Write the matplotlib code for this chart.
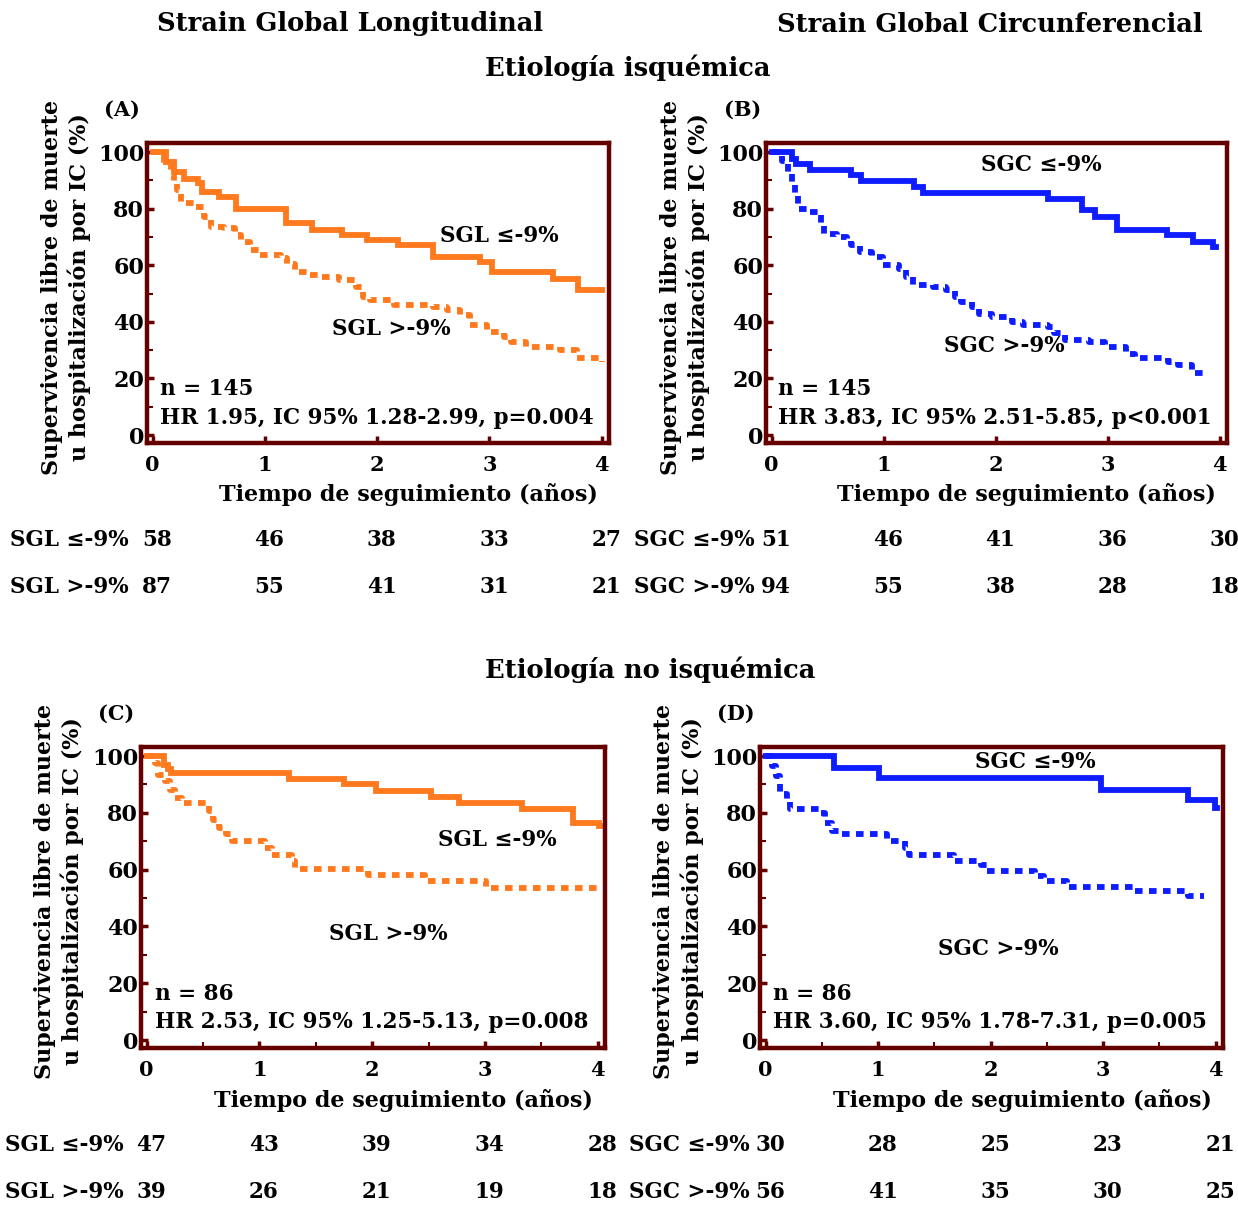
import matplotlib
matplotlib.use('Agg')
import matplotlib.pyplot as plt
from matplotlib.ticker import MultipleLocator, FixedLocator

plt.rcParams['font.family'] = ['DejaVu Serif']
plt.rcParams['font.weight'] = 'bold'

ORANGE = '#ff7a1e'
BLUE = '#0d1dff'
FRAME = '#640000'

# ---- curvas (tiempo en años, supervivencia en %) ----
# (A) SGL, etiologia isquemica
a_low_t = [0, 0.12, 0.19, 0.28, 0.40, 0.44, 0.59, 0.74, 1.19, 1.42, 1.69, 1.91, 2.19, 2.50, 2.92, 3.02, 3.57, 3.79, 4.0]
a_low_s = [100, 96.5, 93, 90.6, 89, 85.9, 84.1, 80, 75, 72.6, 70.6, 68.8, 67.1, 62.9, 61.2, 57.6, 55.3, 51.2, 51.2]
a_high_t = [0, 0.10, 0.16, 0.19, 0.22, 0.25, 0.37, 0.46, 0.52, 0.64, 0.73, 0.79, 0.87, 0.96, 1.14, 1.20, 1.27, 1.38,
            1.47, 1.66, 1.81, 1.87, 1.94, 2.15, 2.50, 2.62, 2.74, 2.83, 2.98, 3.13, 3.19, 3.33, 3.63, 3.78, 4.0]
a_high_s = [100, 96, 92, 89, 86.5, 82, 80.6, 77, 73.5, 73, 70.6, 68.2, 65.3, 63.5, 62.4, 60.6, 57.6, 56.5,
            55.9, 54.7, 52.4, 48.8, 47.6, 45.9, 45.3, 44.1, 42.4, 38.8, 36.5, 34.7, 32.9, 31.2, 30, 27.1, 25.9]

# (B) SGC, etiologia isquemica
b_low_t = [0, 0.18, 0.22, 0.34, 0.71, 0.80, 1.27, 1.35, 2.47, 2.77, 2.89, 3.08, 3.53, 3.76, 3.94, 3.97]
b_low_s = [100, 97.6, 95.9, 93.5, 91.8, 89.8, 87.6, 85.6, 83.5, 79.4, 77, 72.6, 70.6, 68.2, 66.5, 66.5]
b_high_t = [0, 0.09, 0.15, 0.18, 0.21, 0.24, 0.33, 0.41, 0.44, 0.47, 0.58, 0.67, 0.71, 0.79, 0.90, 0.99, 1.14, 1.20,
            1.26, 1.44, 1.56, 1.64, 1.69, 1.79, 1.85, 1.97, 2.15, 2.24, 2.47, 2.52, 2.62, 2.83, 2.98, 3.16, 3.24,
            3.54, 3.63, 3.75, 3.90]
b_high_s = [100, 97, 92.4, 89.4, 85.3, 80, 78.8, 78.2, 74.7, 71.2, 70, 68.8, 67.1, 64.7, 62.9, 60, 58.8, 55.9,
            52.9, 52.4, 51.2, 48.8, 47, 45.3, 42.9, 41.8, 40, 38.8, 38.2, 35.9, 33.5, 32.9, 31.2, 28.8, 27.1,
            25.9, 24.7, 21.8, 21.8]

# (C) SGL, etiologia no isquemica
c_low_t = [0, 0.15, 0.19, 0.22, 1.26, 1.75, 2.03, 2.52, 2.77, 3.33, 3.78, 4.01, 4.04]
c_low_s = [100, 97, 95.3, 94.1, 91.8, 90, 87.6, 85.5, 83.5, 81.2, 76.5, 75.3, 75.3]
c_high_t = [0, 0.07, 0.10, 0.16, 0.21, 0.25, 0.31, 0.55, 0.59, 0.64, 0.70, 0.76, 1.05, 1.11, 1.29, 1.32,
            1.96, 2.47, 3.01, 4.04]
c_high_s = [100, 97.6, 93.5, 91.2, 88.2, 85.3, 83.5, 80.6, 77.6, 74.7, 72.4, 70, 67.6, 65.3, 62.9, 60.4,
            58.2, 55.9, 53.5, 53.5]

# (D) SGC, etiologia no isquemica
d_low_t = [0, 0.61, 1.01, 2.98, 3.75, 3.99, 4.01]
d_low_s = [100, 95.9, 92.4, 88.2, 84.4, 81.8, 81.8]
d_high_t = [0, 0.06, 0.09, 0.13, 0.19, 0.22, 0.49, 0.53, 0.59, 0.67, 1.08, 1.24, 1.27, 1.67, 1.91, 1.97,
            2.39, 2.47, 2.68, 3.27, 3.75, 3.90]
d_high_s = [100, 96.5, 92.9, 86.5, 84.1, 81.2, 80, 76.5, 73.5, 72.4, 70, 67.6, 65, 63.2, 61.8, 59.7,
            57.6, 55.9, 53.8, 52.6, 50.6, 50.6]

# ---- pacientes en riesgo ----
risk_years = [0, 1, 2, 3, 4]
a_risk_low = [58, 46, 38, 33, 27]
a_risk_high = [87, 55, 41, 31, 21]
b_risk_low = [51, 46, 41, 36, 30]
b_risk_high = [94, 55, 38, 28, 18]
c_risk_low = [47, 43, 39, 34, 28]
c_risk_high = [39, 26, 21, 19, 18]
d_risk_low = [30, 28, 25, 23, 21]
d_risk_high = [56, 41, 35, 30, 25]

x_ticks = [0, 1, 2, 3, 4]
y_ticks = [0, 20, 40, 60, 80, 100]

W, H = 1238, 1206
fig = plt.figure(figsize=(W / 100, H / 100), dpi=100)


def box(left, top, right, bottom):
    return [left / W, 1 - bottom / H, (right - left) / W, (bottom - top) / H]


panels = [
    dict(rect=box(147, 143, 609, 443), color=ORANGE, name='SGL',
         low=(a_low_t, a_low_s), high=(a_high_t, a_high_s),
         low_pos=(3.09, 70.2), high_pos=(2.13, 37.4),
         n='n = 145', hr='HR 1.95, IC 95% 1.28-2.99, p=0.004', stat_x=0.028,
         letter='(A)', risk=(a_risk_low, a_risk_high), risk_lx=-0.2965, minor_x=False),
    dict(rect=box(766, 143, 1227, 443), color=BLUE, name='SGC',
         low=(b_low_t, b_low_s), high=(b_high_t, b_high_s),
         low_pos=(2.41, 95.3), high_pos=(2.08, 31.4),
         n='n = 145', hr='HR 3.83, IC 95% 2.51-5.85, p<0.001', stat_x=0.026,
         letter='(B)', risk=(b_risk_low, b_risk_high), risk_lx=-0.2863, minor_x=False),
    dict(rect=box(141, 747, 605, 1048), color=ORANGE, name='SGL',
         low=(c_low_t, c_low_s), high=(c_high_t, c_high_s),
         low_pos=(3.11, 70.6), high_pos=(2.14, 37.4),
         n='n = 86', hr='HR 2.53, IC 95% 1.25-5.13, p=0.008', stat_x=0.03,
         letter='(C)', risk=(c_risk_low, c_risk_high), risk_lx=-0.2925, minor_x=True),
    dict(rect=box(760, 747, 1223, 1048), color=BLUE, name='SGC',
         low=(d_low_t, d_low_s), high=(d_high_t, d_high_s),
         low_pos=(2.40, 97.8), high_pos=(2.07, 32.1),
         n='n = 86', hr='HR 3.60, IC 95% 1.78-7.31, p=0.005', stat_x=0.028,
         letter='(D)', risk=(d_risk_low, d_risk_high), risk_lx=-0.283, minor_x=True),
]

ylab = 'Supervivencia libre de muerte\nu hospitalización por IC (%)'

for p in panels:
    ax = fig.add_axes(p['rect'])
    ax.step(p['low'][0], p['low'][1], where='post', color=p['color'], lw=4.2,
            solid_joinstyle='miter')
    ax.step(p['high'][0], p['high'][1], where='post', color=p['color'], lw=4.2,
            linestyle=(0, (1.3, 1.1)), dash_capstyle='butt')
    ax.set_xlim(-0.05, 4.065)
    ax.set_ylim(-2.8, 103.2)
    for sp in ax.spines.values():
        sp.set_color(FRAME)
        sp.set_linewidth(3.2)
    ax.set_xticks(x_ticks)
    ax.set_yticks(y_ticks)
    ax.set_xticklabels([str(v) for v in x_ticks], fontsize=15, fontweight='bold')
    ax.set_yticklabels([str(v) for v in y_ticks], fontsize=16, fontweight='bold')
    ax.yaxis.set_minor_locator(MultipleLocator(10))
    if p['minor_x']:
        ax.xaxis.set_minor_locator(FixedLocator([0.5, 1.5, 2.5, 3.5]))
    ax.tick_params(which='major', direction='in', length=5, width=2.5, color=FRAME)
    ax.tick_params(which='minor', direction='in', length=4, width=1.5, color=FRAME)
    ax.tick_params(axis='y', which='major', pad=2)
    ax.tick_params(axis='x', which='major', pad=9)

    ax.text(p['low_pos'][0], p['low_pos'][1], p['name'] + ' ≤-9%', fontsize=15.5,
            fontweight='bold', ha='center', va='center')
    ax.text(p['high_pos'][0], p['high_pos'][1], p['name'] + ' >-9%', fontsize=15.5,
            fontweight='bold', ha='center', va='center')
    ax.text(p['stat_x'], 16.2, p['n'], fontsize=15.5, fontweight='bold', ha='left', va='center',
            transform=ax.get_yaxis_transform())
    ax.text(p['stat_x'], 6.2, p['hr'], fontsize=15.5, fontweight='bold', ha='left', va='center',
            transform=ax.get_yaxis_transform())

    ax.text(-0.092, 1.11, p['letter'], fontsize=15, fontweight='bold', ha='left', va='center',
            transform=ax.transAxes)
    ax.text(0.566, -0.173, 'Tiempo de seguimiento (años)', fontsize=16, fontweight='bold',
            ha='center', va='center', transform=ax.transAxes)
    ax.text(-0.176, 0.52, ylab, fontsize=16, fontweight='bold', rotation=90, ha='center',
            va='center', linespacing=1.25, transform=ax.transAxes)

    # tabla de pacientes en riesgo
    for row_y, label, counts in [(-0.322, p['name'] + ' ≤-9%', p['risk'][0]),
                                 (-0.48, p['name'] + ' >-9%', p['risk'][1])]:
        ax.text(p['risk_lx'], row_y, label, fontsize=15.5, fontweight='bold', ha='left',
                va='center', transform=ax.transAxes)
        for yr, cnt in zip(risk_years, counts):
            ax.text(yr + 0.04, row_y, str(cnt), fontsize=15.5, fontweight='bold', ha='center',
                    va='center', transform=ax.get_xaxis_transform(), clip_on=False)

fig.text(350 / W, 1 - 24 / H, 'Strain Global Longitudinal', fontsize=18.5, fontweight='bold',
         ha='center', va='center')
fig.text(990 / W, 1 - 24 / H, 'Strain Global Circunferencial', fontsize=18.5, fontweight='bold',
         ha='center', va='center')
fig.text(628 / W, 1 - 68 / H, 'Etiología isquémica', fontsize=18.5, fontweight='bold',
         ha='center', va='center')
fig.text(650 / W, 1 - 670 / H, 'Etiología no isquémica', fontsize=18.5, fontweight='bold',
         ha='center', va='center')

fig.savefig('out.png', dpi=100)
